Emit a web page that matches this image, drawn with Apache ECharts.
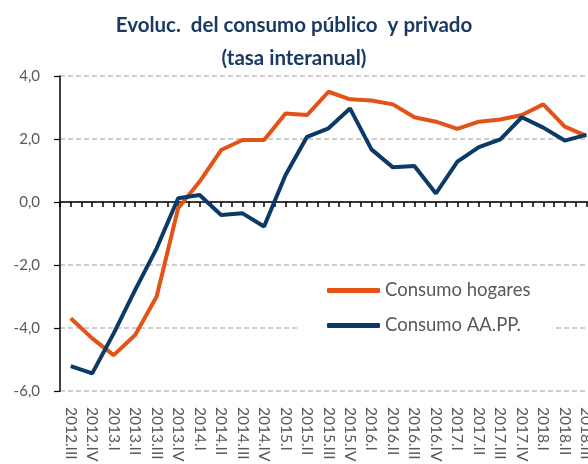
<!DOCTYPE html>
<html>
<head>
<meta charset="utf-8">
<script src="https://cdn.jsdelivr.net/npm/echarts@6/dist/echarts.min.js"></script>
<style>html,body{margin:0;padding:0;background:#fff;}#c{width:588px;height:464px;}</style>
</head>
<body>
<div id="c"></div>
<script>
const categories = ['2012.III','2012.IV','2013.I','2013.II','2013.III','2013.IV','2014.I','2014.II','2014.III','2014.IV','2015.I','2015.II','2015.III','2015.IV','2016.I','2016.II','2016.III','2016.IV','2017.I','2017.II','2017.III','2017.IV','2018.I','2018.II','2018.III'];
const hogares = [-3.69,-4.33,-4.86,-4.22,-3.0,-0.2,0.65,1.65,1.97,1.97,2.81,2.76,3.5,3.26,3.22,3.1,2.69,2.55,2.32,2.55,2.62,2.76,3.1,2.39,2.1];
const aapp = [-5.21,-5.44,-4.17,-2.79,-1.47,0.12,0.22,-0.41,-0.36,-0.78,0.86,2.07,2.34,2.97,1.67,1.1,1.14,0.27,1.28,1.74,1.99,2.69,2.36,1.95,2.13];
const seriesNames = ['Consumo hogares','Consumo AA.PP.'];
const yTicks = {min:-6, max:4, interval:2};
const titleText = 'Evoluc.  del consumo público  y privado\n(tasa interanual)';

const FONT = 'Lato, "Open Sans", sans-serif';
const halfSlots = categories.length * 2;

const chart = echarts.init(document.getElementById('c'), null, {renderer:'canvas'});
chart.setOption({
  backgroundColor:'#fff',
  animation:false,
  title:{
    text:titleText,
    left:'center',
    top:4,
    textStyle:{fontFamily:FONT, fontSize:20.5, fontWeight:'bold', color:'#1B3A63', lineHeight:33}
  },
  legend:{
    orient:'vertical',
    left:297, top:271,
    padding:[10,22,10,30],
    backgroundColor:'#fff',
    itemGap:16,
    itemWidth:53, itemHeight:5,
    icon:'roundRect',
    textStyle:{fontFamily:FONT, fontSize:18.5, color:'#595959'},
    data:seriesNames
  },
  grid:{left:60, top:76, bottom:73, right:-9, containLabel:false, outerBoundsMode:'none'},
  xAxis:[
    {
      type:'category', data:categories, boundaryGap:true, position:'bottom',
      axisLine:{show:false, onZero:false},
      axisTick:{show:false},
      axisLabel:{show:true, interval:0, rotate:-90, margin:16, fontFamily:FONT, fontSize:15.5, color:'#595959'}
    },
    {
      type:'value', min:0, max:halfSlots, interval:1, position:'bottom',
      axisLine:{show:true, onZero:true, lineStyle:{color:'#000', width:1.5}},
      axisTick:{show:true, length:5, lineStyle:{color:'#000', width:1.5}},
      axisLabel:{show:true, color:'rgba(255,255,255,0)', fontSize:6},
      splitLine:{show:false}
    }
  ],
  yAxis:{
    type:'value', min:yTicks.min, max:yTicks.max, interval:yTicks.interval,
    axisLine:{show:true, lineStyle:{color:'#000', width:1.5}},
    axisTick:{show:true, length:6, lineStyle:{color:'#000', width:1.2}},
    axisLabel:{margin:20, fontFamily:FONT, fontSize:15, color:'#595959', formatter:v=>v.toFixed(1).replace('.',',')},
    splitLine:{show:true, lineStyle:{color:'#BFBFBF', type:[5,3], width:1.5}}
  },
  series:[
    {name:seriesNames[0], type:'line', xAxisIndex:0, data:hogares, symbol:'none', lineStyle:{color:'#E35217', width:4}, itemStyle:{color:'#E35217'}},
    {name:seriesNames[1], type:'line', xAxisIndex:0, data:aapp, symbol:'none', lineStyle:{color:'#0B3A68', width:4}, itemStyle:{color:'#0B3A68'}}
  ]
});
</script>
</body>
</html>
